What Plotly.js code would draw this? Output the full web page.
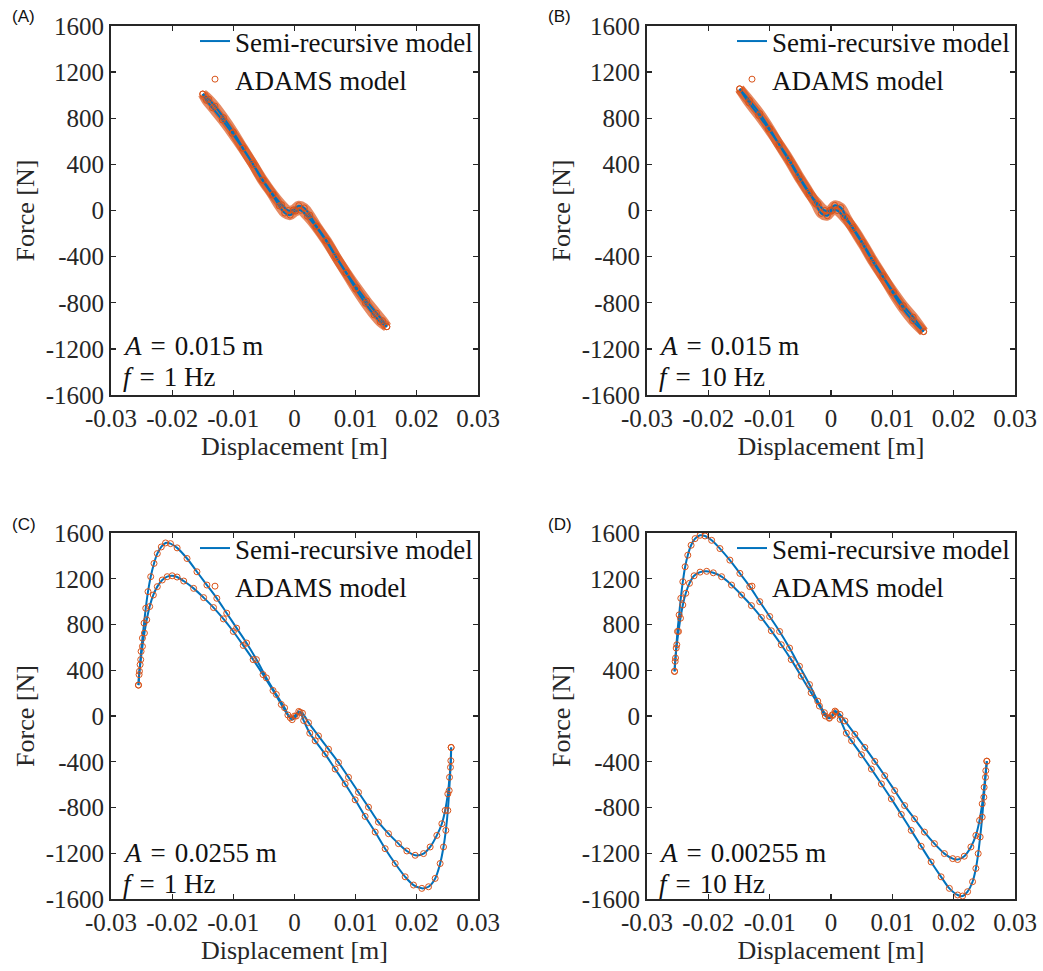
<!DOCTYPE html>
<html><head><meta charset="utf-8">
<script src="https://cdn.plot.ly/plotly-3.0.1.min.js"></script>
<style>html,body{margin:0;padding:0;background:#fff}</style>
</head><body><div id="chart" style="width:1043px;height:971px"></div>
<script>
// ---- tick labels ----
const xTickVals = [-0.03, -0.02, -0.01, 0, 0.01, 0.02, 0.03];
const xTickText = ['-0.03', '-0.02', '-0.01', '0', '0.01', '0.02', '0.03'];
const yTickVals = [-1600, -1200, -800, -400, 0, 400, 800, 1200, 1600];
const yTickText = ['-1600', '-1200', '-800', '-400', '0', '400', '800', '1200', '1600'];

const panelLabels = ['(A)', '(B)', '(C)', '(D)'];
const ampLabels = ['0.015 m', '0.015 m', '0.0255 m', '0.00255 m'];
const freqLabels = ['1 Hz', '10 Hz', '1 Hz', '10 Hz'];
const seriesNames = ['Semi-recursive model', 'ADAMS model'];

// ---- Panel A (A = 0.015 m, f = 1 Hz) ----
const aX1 = [-0.0150, -0.0140, -0.0130, -0.0116, -0.0100, -0.0084, -0.0067, -0.0051, -0.0035, -0.0021, -0.0010, -0.0002, 0.0007, 0.0016, 0.0025, 0.0036, 0.0053, 0.0069, 0.0085, 0.0102, 0.0118, 0.0134, 0.0144, 0.0151];
const aY1 = [1010, 965, 905, 805, 680, 540, 395, 260, 140, 50, 0, 5, 42, 22, -40, -135, -265, -410, -540, -670, -785, -890, -955, -1008];
const aX2 = [-0.0150, -0.0144, -0.0134, -0.0118, -0.0102, -0.0085, -0.0069, -0.0053, -0.0036, -0.0025, -0.0016, -0.0007, 0.0002, 0.0010, 0.0021, 0.0035, 0.0051, 0.0067, 0.0084, 0.0100, 0.0116, 0.0130, 0.0140, 0.0151];
const aY2 = [1010, 955, 890, 785, 670, 540, 410, 265, 135, 40, -22, -40, -5, 2, -50, -140, -260, -395, -540, -680, -805, -905, -965, -1008];

// ---- Panel B (A = 0.015 m, f = 10 Hz) ----
const bX1 = [-0.0149, -0.0133, -0.0116, -0.0100, -0.0084, -0.0067, -0.0051, -0.0035, -0.0021, -0.0010, -0.0002, 0.0006, 0.0016, 0.0025, 0.0036, 0.0053, 0.0069, 0.0085, 0.0102, 0.0118, 0.0134, 0.0151];
const bY1 = [1055, 955, 840, 710, 565, 420, 275, 144, 56, 0, 0, 45, 25, -60, -160, -305, -450, -578, -708, -825, -925, -1050];
const bX2 = [-0.0149, -0.0134, -0.0118, -0.0102, -0.0085, -0.0069, -0.0053, -0.0036, -0.0025, -0.0016, -0.0006, 0.0002, 0.0010, 0.0021, 0.0035, 0.0051, 0.0067, 0.0084, 0.0100, 0.0116, 0.0133, 0.0151];
const bY2 = [1055, 935, 825, 708, 578, 450, 305, 160, 60, -25, -45, 0, 0, -56, -144, -275, -420, -565, -710, -840, -955, -1050];

// ---- Panel C (A = 0.0255 m, f = 1 Hz) ----
const cX1 = [-0.02551, -0.02541, -0.02524, -0.02508, -0.02486, -0.02459, -0.02432, -0.02395, -0.02351, -0.02297, -0.02243, -0.02178, -0.02108, -0.02027, -0.01919, -0.01757, -0.01595, -0.01432, -0.01270, -0.01108, -0.00946, -0.00784, -0.00622, -0.00459, -0.00297, -0.00162, -0.00070, 0.00000, 0.00070, 0.00130, 0.00229, 0.00392, 0.00556, 0.00719, 0.00883, 0.01046, 0.01210, 0.01373, 0.01537, 0.01700, 0.01837, 0.01973, 0.02110, 0.02218, 0.02327, 0.02409, 0.02463, 0.02507, 0.02534, 0.02556, 0.02561];
const cY1 = [270, 362, 449, 565, 681, 812, 942, 1087, 1218, 1334, 1420, 1478, 1513, 1507, 1470, 1377, 1261, 1145, 1029, 899, 768, 638, 493, 333, 188, 72, -15, 0, 40, 25, -58, -174, -290, -406, -536, -667, -797, -928, -1029, -1116, -1180, -1218, -1203, -1145, -1044, -942, -826, -681, -536, -391, -275];
const cX2 = [-0.02551, -0.02535, -0.02514, -0.02486, -0.02454, -0.02416, -0.02368, -0.02308, -0.02243, -0.02162, -0.02081, -0.02000, -0.01919, -0.01811, -0.01649, -0.01486, -0.01324, -0.01162, -0.01000, -0.00838, -0.00676, -0.00514, -0.00351, -0.00216, -0.00108, -0.00038, 0.00030, 0.00090, 0.00150, 0.00250, 0.00338, 0.00501, 0.00665, 0.00828, 0.00992, 0.01155, 0.01319, 0.01482, 0.01646, 0.01809, 0.01946, 0.02082, 0.02191, 0.02300, 0.02381, 0.02436, 0.02474, 0.02507, 0.02529, 0.02550, 0.02561];
const cY2 = [270, 391, 493, 609, 725, 841, 957, 1058, 1131, 1189, 1218, 1226, 1215, 1180, 1116, 1035, 948, 849, 739, 617, 493, 362, 223, 101, 9, -32, 0, 32, -40, -150, -217, -333, -464, -594, -733, -878, -1015, -1160, -1290, -1406, -1478, -1507, -1493, -1420, -1290, -1145, -1000, -826, -652, -449, -275];

// ---- Panel D (A = 0.00255 m, f = 10 Hz) ----
const dX1 = [-0.02551, -0.02541, -0.02524, -0.02503, -0.02476, -0.02449, -0.02416, -0.02378, -0.02335, -0.02281, -0.02216, -0.02135, -0.02054, -0.01946, -0.01811, -0.01649, -0.01486, -0.01324, -0.01162, -0.01000, -0.00838, -0.00676, -0.00514, -0.00351, -0.00216, -0.00108, -0.00027, 0.00020, 0.00065, 0.00146, 0.00227, 0.00389, 0.00551, 0.00714, 0.00876, 0.01038, 0.01200, 0.01362, 0.01524, 0.01686, 0.01849, 0.01984, 0.02065, 0.02173, 0.02281, 0.02362, 0.02422, 0.02465, 0.02497, 0.02524, 0.02541];
const dY1 = [390, 478, 594, 739, 884, 1029, 1174, 1305, 1406, 1493, 1551, 1580, 1574, 1536, 1464, 1363, 1247, 1131, 1000, 870, 739, 594, 435, 275, 130, 29, -14, 10, 43, 14, -43, -159, -275, -397, -522, -652, -783, -899, -1015, -1116, -1203, -1247, -1255, -1226, -1145, -1044, -913, -768, -623, -478, -395];
const dX2 = [-0.02551, -0.02535, -0.02514, -0.02486, -0.02454, -0.02416, -0.02368, -0.02308, -0.02232, -0.02135, -0.02027, -0.01919, -0.01784, -0.01622, -0.01459, -0.01297, -0.01135, -0.00973, -0.00811, -0.00649, -0.00486, -0.00324, -0.00189, -0.00092, -0.00027, 0.00030, 0.00080, 0.00150, 0.00250, 0.00335, 0.00497, 0.00659, 0.00822, 0.00984, 0.01146, 0.01308, 0.01470, 0.01632, 0.01795, 0.01930, 0.02065, 0.02146, 0.02227, 0.02308, 0.02362, 0.02400, 0.02432, 0.02465, 0.02492, 0.02519, 0.02541];
const dY2 = [390, 507, 623, 739, 855, 971, 1073, 1160, 1226, 1258, 1265, 1252, 1218, 1145, 1058, 965, 861, 745, 623, 493, 348, 203, 87, 0, -20, 5, 35, -30, -150, -217, -339, -464, -594, -725, -861, -1000, -1139, -1276, -1406, -1507, -1565, -1574, -1536, -1449, -1333, -1203, -1058, -884, -710, -536, -395];

const panels = [
  {x1: aX1, y1: aY1, x2: aX2, y2: aY2, band: true},
  {x1: bX1, y1: bY1, x2: bX2, y2: bY2, band: true},
  {x1: cX1, y1: cY1, x2: cX2, y2: cY2, band: false},
  {x1: dX1, y1: dY1, x2: dX2, y2: dY2, band: false}
];

const BLUE = '#0072BD', ORANGE = '#D95319', AX = '#262626';
const SERIF = 'Liberation Serif, Times New Roman, serif';
const FS_TICK = 25, FS_TITLE = 26, FS_TEXT = 27;

// plot-area rectangles in pixels [left, top, right, bottom]
const W = 1043, H = 971;
const rects = [[111, 26, 478, 395], [647, 26, 1015, 395], [111, 533, 478, 899], [647, 533, 1015, 899]];

const traces = [];
const layout = {
  width: W, height: H,
  margin: {l: 0, r: 0, t: 0, b: 0},
  paper_bgcolor: '#fff', plot_bgcolor: '#fff',
  font: {family: SERIF, size: FS_TICK, color: AX},
  showlegend: true,
  annotations: []
};

panels.forEach((p, i) => {
  const n = i === 0 ? '' : String(i + 1);
  const xa = 'x' + n, ya = 'y' + n;
  const lg = 'legend' + n;
  const xs = p.x1.concat([null], p.x2);
  const ys = p.y1.concat([null], p.y2);
  if (p.band) {
    traces.push({x: xs, y: ys, xaxis: xa, yaxis: ya, mode: 'lines', type: 'scatter',
      line: {color: 'rgba(217,83,25,0.68)', width: 10, shape: 'spline', smoothing: 1},
      showlegend: false, hoverinfo: 'skip', legend: lg});
  }
  traces.push({x: xs, y: ys, xaxis: xa, yaxis: ya, mode: 'lines', type: 'scatter',
    name: seriesNames[0], legend: lg,
    line: {color: BLUE, width: 2, shape: 'spline', smoothing: 1}, connectgaps: false});
  traces.push({x: xs, y: ys, xaxis: xa, yaxis: ya, mode: 'markers', type: 'scatter',
    name: seriesNames[1], legend: lg,
    marker: {symbol: 'circle-open', size: 6, color: ORANGE, line: {width: 1, color: ORANGE}}});

  const r = rects[i];
  const dx = [r[0] / W, r[2] / W], dy = [1 - r[3] / H, 1 - r[1] / H];
  layout['xaxis' + n] = {
    domain: dx, anchor: ya, range: [-0.03, 0.03],
    tickmode: 'array', tickvals: xTickVals, ticktext: xTickText,
    ticks: 'inside', ticklen: 5, tickwidth: 1.3, tickcolor: AX,
    showline: true, linewidth: 2, linecolor: AX, mirror: 'allticks',
    showgrid: false, zeroline: false,
    tickfont: {family: SERIF, size: FS_TICK, color: AX},
    title: {text: 'Displacement [m]', font: {family: SERIF, size: FS_TITLE, color: AX}, standoff: 6}
  };
  layout['yaxis' + n] = {
    domain: dy, anchor: xa, range: [-1600, 1600],
    tickmode: 'array', tickvals: yTickVals, ticktext: yTickText,
    ticks: 'inside', ticklen: 5, tickwidth: 1.3, tickcolor: AX,
    showline: true, linewidth: 2, linecolor: AX, mirror: 'allticks',
    showgrid: false, zeroline: false,
    tickfont: {family: SERIF, size: FS_TICK, color: AX},
    title: {text: 'Force [N]', font: {family: SERIF, size: FS_TITLE, color: AX}, standoff: 4}
  };
  layout[lg] = {
    x: dx[1], xanchor: 'right', y: dy[1] + 9 / H, yanchor: 'top',
    bgcolor: 'rgba(0,0,0,0)', borderwidth: 0,
    font: {family: SERIF, size: FS_TEXT, color: '#111'},
    tracegroupgap: 0
  };
  // panel label
  layout.annotations.push({
    xref: 'paper', yref: 'paper', x: (r[0] - 101) / W, y: 1 - (r[1] - 9) / H,
    xanchor: 'left', yanchor: 'middle', showarrow: false,
    text: panelLabels[i], font: {family: 'Liberation Sans, Arial, sans-serif', size: 17, color: '#111'}
  });
  // amplitude / frequency text
  layout.annotations.push({
    xref: 'paper', yref: 'paper', x: (r[0] + 10) / W, y: 1 - (r[1] + 320) / H,
    xanchor: 'left', yanchor: 'middle', showarrow: false,
    text: '<i>A</i>\u2004=\u2004' + ampLabels[i], font: {family: SERIF, size: FS_TEXT, color: '#111'}
  });
  layout.annotations.push({
    xref: 'paper', yref: 'paper', x: (r[0] + 10) / W, y: 1 - (r[1] + 351) / H,
    xanchor: 'left', yanchor: 'middle', showarrow: false,
    text: '<i>f</i>\u2004=\u2004' + freqLabels[i], font: {family: SERIF, size: FS_TEXT, color: '#111'}
  });
});

Plotly.newPlot('chart', traces, layout, {displayModeBar: false, staticPlot: true});
</script></body></html>
